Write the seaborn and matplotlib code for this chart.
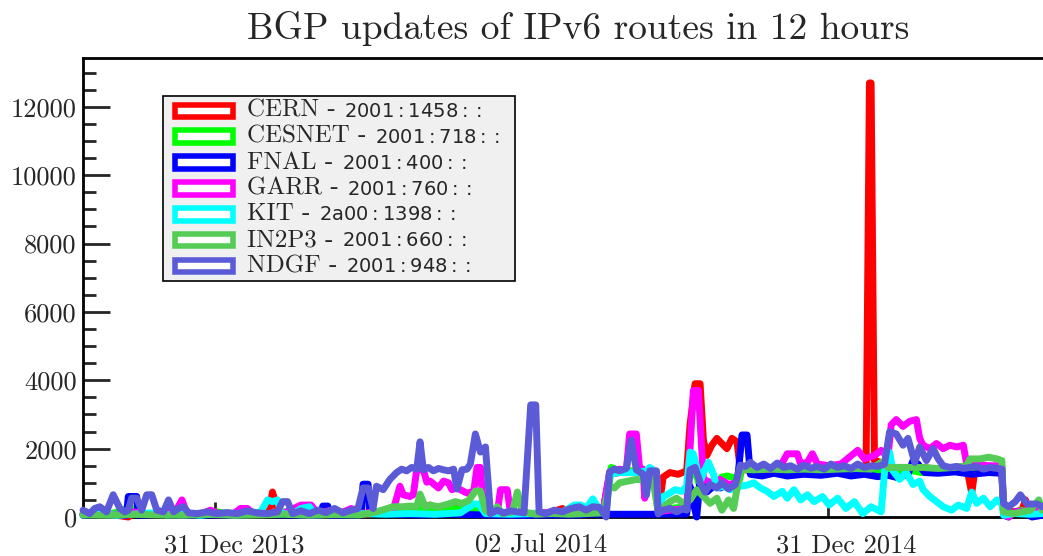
import matplotlib
matplotlib.use("Agg")
import matplotlib.pyplot as plt
from matplotlib.patches import Rectangle
from matplotlib.offsetbox import (AnchoredOffsetbox, HPacker, VPacker,
                                  TextArea, DrawingArea)
from matplotlib.ticker import MultipleLocator
from matplotlib.transforms import ScaledTranslation
import pandas as pd
import seaborn as sns

# ---------------- data (days since START, updates per 12 h) ----------------
START = pd.Timestamp("2013-10-13")

sites = ["CERN", "CESNET", "FNAL", "GARR", "KIT", "IN2P3", "NDGF"]
prefixes = ["2001:1458::", "2001:718::", "2001:400::", "2001:760::",
            "2a00:1398::", "2001:660::", "2001:948::"]
colors = ["#ff0000", "#00ff00", "#0000ff", "#ff00ff", "#00ffff",
          "#55cc55", "#5b5bd7"]

cern = [(0,80),(10,100),(20,50),(27,0),(30,100),(40,80),(50,120),(60,80),(70,100),
        (80,60),(90,100),(100,80),(108,100),(111,200),(113,730),(116,200),(120,100),
        (130,80),(140,120),(150,60),(160,100),(170,80),(180,150),(190,200),(200,250),
        (207,350),(212,200),(220,250),(230,300),(240,200),(245,100),(255,80),(265,100),
        (275,80),(286,250),(290,80),(300,150),(310,100),(314,1250),(320,1300),(330,1300),
        (341,1300),(343,100),(346,1170),(350,1300),(355,1250),(360,1350),(362,2690),
        (365,3900),(368,3900),(370,2250),(372,1800),(375,2100),(378,2300),(381,2150),
        (384,2000),(387,2300),(390,2200),(392,1400),(400,1350),(410,1400),(417,1550),
        (420,1400),(430,1380),(440,1400),(450,1380),(460,1420),(467,1480),(469,12700),
        (470,12700),(472,1650),(476,1600),(480,1450),(490,1450),(500,1450),(510,1400),
        (520,1450),(527,1450),(530,700),(532,1400),(540,1420),(548,1380),(549,200),
        (555,150),(560,200),(562,500),(565,150),(572,100)]

cesnet = [(0,100),(8,150),(16,80),(24,200),(28,300),(32,120),(40,100),(50,150),(60,80),
          (70,100),(80,150),(90,60),(100,100),(110,80),(120,150),(130,100),(140,80),
          (150,150),(160,120),(170,100),(180,200),(185,300),(190,200),(200,250),(210,200),
          (220,250),(230,200),(240,250),(245,100),(255,150),(265,100),(275,120),(285,150),
          (295,100),(305,120),(312,200),(315,1450),(320,1350),(330,1350),(340,1300),
          (343,150),(350,250),(360,300),(362,1300),(366,1200),(369,700),(374,900),
          (378,1000),(381,1170),(384,1200),(388,1150),(391,1000),(393,1400),(400,1350),
          (410,1380),(420,1350),(430,1400),(440,1350),(450,1380),(460,1350),(470,1400),
          (480,1350),(490,1400),(500,1300),(510,1380),(520,1350),(530,1400),(540,1350),
          (548,1300),(549,150),(555,100),(560,200),(565,100),(570,450),(572,200)]

fnal = [(0,50),(10,80),(20,50),(26,50),(27,600),(32,600),(33,50),(45,80),(60,50),(75,60),
        (90,50),(105,80),(120,60),(135,50),(142,50),(143,320),(146,320),(147,50),(160,60),
        (166,60),(167,960),(170,960),(171,100),(185,80),(200,60),(220,80),(240,60),
        (260,50),(280,60),(295,60),(300,80),(320,80),(340,80),(360,90),(362,900),
        (364,400),(366,0),(368,1100),(370,1000),(372,730),(376,900),(380,850),(385,950),
        (390,900),(393,2400),(396,2400),(398,1250),(405,1200),(412,1280),(420,1200),
        (430,1250),(440,1220),(450,1280),(458,1200),(466,1250),(474,1180),(480,1220),
        (486,1150),(492,1250),(495,1650),(498,1550),(502,1300),(510,1280),(520,1320),
        (530,1250),(540,1300),(548,1280),(549,50),(552,0),(556,150),(562,100),(566,0),
        (572,50)]

garr = [(0,80),(10,120),(20,60),(30,150),(40,80),(50,200),(55,150),(59,500),(62,100),
        (70,80),(76,200),(82,80),(90,100),(94,250),(98,250),(102,80),(110,100),(120,120),
        (130,350),(136,350),(140,100),(148,200),(153,100),(160,250),(165,100),(175,150),
        (185,200),(189,900),(191,650),(195,600),(197,650),(199,1380),(203,1380),(205,1020),
        (207,1050),(212,850),(215,1050),(218,1000),(220,800),(223,850),(225,800),(229,700),
        (233,750),(235,1450),(237,1450),(238,750),(240,150),(244,100),(247,100),(249,800),
        (253,800),(255,100),(260,120),(270,100),(280,150),(290,120),(300,200),(310,150),
        (314,1300),(320,1400),(324,1350),(326,2430),(330,2430),(332,1400),(334,1400),
        (335,550),(338,1350),(342,1300),(343,150),(350,200),(360,250),(362,2000),
        (364,3700),(367,3700),(370,1100),(375,1000),(380,1100),(385,950),(390,1000),
        (392,1400),(400,1400),(410,1400),(416,1500),(420,1850),(426,1850),(428,1550),
        (432,1600),(435,1850),(438,1550),(445,1500),(452,1550),(457,1750),(462,1950),
        (466,1700),(472,1800),(476,1950),(480,1750),(482,2700),(485,2850),(489,2650),
        (493,2800),(497,2850),(499,2300),(501,2100),(505,2000),(509,2150),(513,2000),
        (517,2100),(521,2050),(525,2100),(527,1550),(532,1550),(540,1500),(548,1500),
        (549,100),(552,0),(556,150),(565,200),(572,150)]

kit = [(0,60),(10,100),(20,50),(30,80),(40,120),(50,60),(60,100),(70,50),(80,100),(90,60),
       (100,80),(106,150),(110,500),(113,450),(116,500),(118,100),(125,80),(130,250),
       (135,300),(138,100),(150,80),(165,100),(180,80),(195,100),(210,80),(225,120),
       (233,380),(236,380),(240,100),(255,80),(270,100),(285,120),(293,350),(297,350),
       (300,250),(304,530),(307,300),(312,150),(314,1250),(320,1300),(330,1300),(336,1350),
       (338,1450),(342,1300),(343,200),(346,600),(350,700),(353,800),(357,750),(360,900),
       (362,1900),(364,1850),(366,1450),(368,1000),(370,1300),(373,1600),(376,1250),
       (378,850),(382,900),(386,800),(390,850),(392,900),(396,930),(400,1000),(404,850),
       (408,750),(412,600),(417,750),(420,550),(424,800),(428,500),(432,650),(436,450),
       (441,600),(445,350),(450,550),(455,250),(460,450),(465,100),(470,300),(476,150),
       (479,1900),(481,1900),(483,1350),(487,1100),(491,1300),(495,950),(499,1050),
       (501,800),(505,600),(509,450),(513,300),(518,200),(522,350),(527,250),(530,730),
       (533,400),(537,550),(541,300),(545,500),(548,400),(549,50),(555,100),(565,80),
       (572,100)]

in2p3 = [(0,60),(15,50),(30,80),(45,60),(60,50),(75,80),(90,50),(105,60),(120,80),
         (135,50),(150,70),(165,60),(175,150),(185,300),(190,300),(196,320),(199,300),
         (201,670),(204,300),(207,350),(212,300),(218,380),(222,450),(226,400),(230,480),
         (234,760),(237,760),(240,200),(243,100),(247,300),(250,100),(256,150),(259,730),
         (262,150),(270,80),(280,100),(290,80),(300,100),(310,120),(314,900),(317,850),
         (320,1000),(330,1100),(340,1050),(343,150),(350,450),(354,550),(358,400),
         (362,500),(366,800),(370,600),(374,400),(378,550),(381,200),(385,500),(388,250),
         (392,1400),(400,1380),(410,1400),(420,1380),(430,1400),(440,1380),(450,1400),
         (460,1420),(470,1400),(476,1600),(480,1450),(490,1450),(500,1450),(510,1420),
         (520,1450),(527,1500),(529,1700),(535,1700),(540,1750),(545,1700),(548,1650),
         (549,150),(555,100),(565,200),(570,500),(572,200)]

ndgf = [(0,200),(4,100),(7,250),(10,300),(14,150),(18,650),(22,250),(25,150),(27,200),
        (29,550),(32,550),(35,200),(38,650),(41,650),(44,200),(48,150),(51,500),(54,150),
        (57,250),(60,300),(63,120),(68,100),(74,150),(80,100),(86,130),(92,100),(98,180),
        (104,120),(110,100),(116,150),(119,450),(122,450),(125,100),(130,180),(135,100),
        (140,200),(145,130),(150,250),(155,120),(160,200),(164,250),(167,850),(170,850),
        (173,250),(175,900),(179,800),(183,1100),(187,1300),(190,1400),(193,1350),
        (196,1450),(199,1400),(201,2200),(203,1380),(206,1450),(209,1350),(212,1420),
        (215,1380),(218,1350),(221,1400),(223,820),(226,1380),(229,1400),(231,1550),
        (234,2430),(237,1900),(240,2050),(243,100),(247,200),(251,120),(255,180),(259,150),
        (263,120),(267,3280),(270,3280),(272,150),(276,100),(281,200),(286,150),(291,250),
        (296,300),(300,200),(304,300),(308,280),(312,0),(314,1320),(317,1400),(320,1350),
        (324,1420),(327,2250),(330,1380),(334,1260),(336,640),(338,1350),(342,1350),
        (343,90),(346,200),(350,250),(354,150),(358,250),(360,200),(362,1380),(365,1450),
        (368,1020),(371,730),(374,950),(378,850),(381,1000),(385,820),(389,950),(392,1520),
        (395,1480),(398,1600),(402,1450),(406,1550),(410,1420),(414,1580),(418,1450),
        (422,1500),(426,1400),(430,1520),(434,1430),(438,1480),(442,1400),(446,1550),
        (450,1450),(454,1500),(458,1420),(462,1550),(466,1450),(470,1500),(474,1480),
        (478,1550),(481,2490),(485,2430),(489,2100),(492,2300),(496,1600),(499,2050),
        (503,1650),(507,2000),(510,1700),(513,1500),(517,1450),(521,1480),(525,1420),
        (529,1450),(533,1480),(537,1400),(541,1450),(545,1420),(548,1400),(549,400),
        (552,300),(556,450),(559,650),(563,380),(569,380),(572,300)]

tick_dates = ["2013-12-31", "2014-07-02", "2014-12-31"]
tick_labels = ["31 Dec 2013", "02 Jul 2014", "31 Dec 2014"]
y_ticks = [0, 2000, 4000, 6000, 8000, 10000, 12000]

# ---------------- build table ----------------
series = dict(zip(sites, [cern, cesnet, fnal, garr, kit, in2p3, ndgf]))
rows = []
for name, pts in series.items():
    for d, v in pts:
        rows.append((START + pd.Timedelta(days=d), v, name))
df = pd.DataFrame(rows, columns=["date", "updates", "site"])

# ---------------- style ----------------
sns.set_style("ticks")
plt.rcParams["font.family"] = ["cmr10", "DejaVu Sans"]
plt.rcParams["mathtext.fontset"] = "dejavusans"
plt.rcParams["axes.formatter.use_mathtext"] = False

fig = plt.figure(figsize=(10.43, 5.56), dpi=100)
ax = fig.add_axes([83 / 1043, 39 / 556, 991 / 1043, 459 / 556])

sns.lineplot(data=df, x="date", y="updates", hue="site", hue_order=sites,
             palette=dict(zip(sites, colors)), estimator=None, linewidth=5,
             legend=False, ax=ax)
for ln in ax.lines:
    ln.set_zorder(3)
    ln.set_clip_on(False)

ax.set_xlim(START, START + pd.Timedelta(days=591))
ax.set_ylim(0, 13430)
ax.set_xlabel("")
ax.set_ylabel("")

ax.set_xticks(pd.to_datetime(tick_dates))
ax.set_xticklabels(tick_labels)
ax.set_yticks(y_ticks)
ax.set_yticklabels([str(v) for v in y_ticks])
ax.yaxis.set_minor_locator(MultipleLocator(500))

ax.tick_params(axis="y", which="major", direction="in", length=19.5, width=2,
               labelsize=19, pad=4.5)
ax.tick_params(axis="y", which="minor", direction="in", length=9.5, width=2)
ax.tick_params(axis="x", which="major", direction="in", length=11, width=2,
               labelsize=19, pad=12)
ax.tick_params(axis="x", which="minor", bottom=False)

for lab in ax.get_xticklabels():
    lab.set_transform(lab.get_transform() +
                      ScaledTranslation(19 / 100, 0, fig.dpi_scale_trans))

for s in ["left", "top", "bottom"]:
    ax.spines[s].set_linewidth(2)
    ax.spines[s].set_color("black")
ax.spines["right"].set_visible(False)

ax.set_title("BGP updates of IPv6 routes in 12 hours", fontsize=27, pad=14)

# ---------------- legend (boxed key: patch + name + prefix) ----------------
hw, hh = 46.0, 13.0   # handle size in points


def addr_math(p):
    return "$" + p.replace("a", r"\mathrm{a}") + "$"


legend_rows = []
for s, p, c in zip(sites, prefixes, colors):
    da = DrawingArea(hw, hh, 0, 0)
    da.add_artist(Rectangle((2, 2), hw - 4, hh - 4, facecolor="white",
                            edgecolor=c, linewidth=4))
    name = TextArea(f"{s} -", textprops=dict(fontsize=18, family="cmr10"))
    addr = TextArea(addr_math(p), textprops=dict(fontsize=14))
    txt = HPacker(children=[name, addr], align="baseline", pad=0, sep=6)
    inner = HPacker(children=[da, txt], align="center", pad=0, sep=8)
    outer = HPacker(children=[DrawingArea(0, 0), inner, DrawingArea(4.5, 0)],
                    align="center", pad=0, sep=3.8)
    legend_rows.append(outer)

key = VPacker(children=legend_rows, align="left", pad=0, sep=2.7)
box = AnchoredOffsetbox(loc="upper left", child=key, pad=0.15, borderpad=0,
                        frameon=True, bbox_to_anchor=(0.0807, 0.9172),
                        bbox_transform=ax.transAxes, prop=dict(size=18))
box.patch.set_boxstyle("square", pad=0)
box.patch.set_facecolor("#f0f0f0")
box.patch.set_edgecolor("black")
box.patch.set_linewidth(1.2)
box.set_zorder(10)
ax.add_artist(box)

fig.savefig("out.png", dpi=100, facecolor="white")
